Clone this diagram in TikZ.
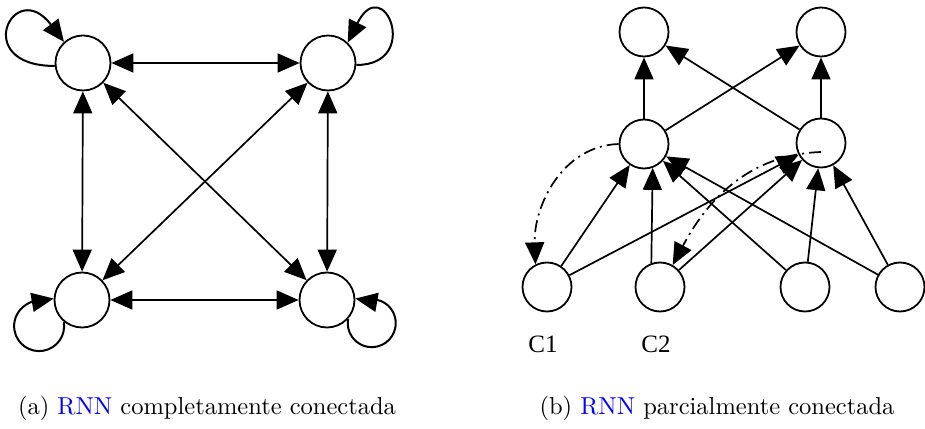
\documentclass[tikz,border=0pt]{standalone}
\usepackage{fontspec}
\usepackage{graphicx}
\usetikzlibrary{arrows.meta}
\newfontfamily\tnr{Liberation Serif}
\begin{document}
\begin{tikzpicture}[x=1pt,y=1pt,
  neuron/.style={circle,draw,line width=1.8pt,minimum size=55pt,inner sep=0pt},
  rneuron/.style={circle,draw,line width=1.8pt,minimum size=49pt,inner sep=0pt},
  tip/.style={-{Triangle[length=22pt,width=19pt]}},
  conn/.style={line width=1.7pt,tip},
  bconn/.style={line width=1.7pt,{Triangle[length=22pt,width=19pt]}-{Triangle[length=22pt,width=19pt]}},
  loopc/.style={line width=2pt,tip},
  dd/.style={line width=1.7pt,dash pattern=on 12pt off 5pt on 2pt off 5pt,tip},
  lbl/.style={font=\tnr\fontsize{25}{28}\selectfont,inner sep=0pt},
  captxt/.style={inner sep=0pt,anchor=base}
]
\useasboundingbox (0,0) rectangle (925,428);
% ---- (a) fully connected
\node[neuron] (TL) at (83,365) {};
\node[neuron] (TR) at (328,365) {};
\node[neuron] (BL) at (82,128) {};
\node[neuron] (BR) at (327,128) {};
\draw[bconn] (TL) -- (TR);
\draw[bconn] (BL) -- (BR);
\draw[bconn] (TL) -- (BL);
\draw[bconn] (TR) -- (BR);
\draw[bconn] (TL) -- (BR);
\draw[bconn] (TR) -- (BL);
\draw[loopc] (TL.186) .. controls +(-85,0) and +(-50,66) .. (TL.132);
\draw[loopc] (TR.-4) .. controls +(66,0) and +(36,72) .. (TR.46);
\draw[loopc] (BL.230) arc[start angle=10,end angle=-230,radius=25] to[out=40,in=190] (BL.177);
\draw[loopc] (BR.-42) arc[start angle=170,end angle=410,radius=24] to[out=140,in=-10] (BR.3);
% ---- (b) partially connected
\node[rneuron] (TLt) at (644,396) {};
\node[rneuron] (TRt) at (821,396) {};
\node[rneuron] (ML) at (644,284) {};
\node[rneuron] (MR) at (821,285) {};
\node[rneuron] (C1) at (547,141) {};
\node[rneuron] (C2) at (660,141) {};
\node[rneuron] (N3) at (805,141) {};
\node[rneuron] (N4) at (900,141) {};
\node[lbl] (l1) at (543,84) {C1};
\node[lbl] (l2) at (656,84) {C2};
\draw[conn] (ML) -- (TLt);
\draw[conn] (MR) -- (TRt);
\draw[conn] (ML) -- (TRt);
\draw[conn] (MR) -- (TLt);
\draw[conn] (C1) -- (ML);
\draw[conn] (C1) -- (MR);
\draw[conn] (C2.110) -- (ML.-70);
\draw[conn] (C2) -- (MR);
\draw[conn] (N3) -- (ML);
\draw[conn] (N3) -- (MR);
\draw[conn] (N4) -- (ML);
\draw[conn] (N4) -- (MR);
\coordinate (mrin) at ([yshift=-9pt]MR.center);
\draw[dd] (ML.180) to[out=182,in=92] (C1.117);
\draw[dd] (mrin) to[out=182,in=62] (C2.60);
% ---- captions
\node[captxt] (ca) at (207,14) {\scalebox{2.45}{\fontsize{10}{12}\selectfont (a) \textcolor{blue}{RNN} completamente conectada}};
\node[captxt] (cb) at (717,14) {\scalebox{2.45}{\fontsize{10}{12}\selectfont (b) \textcolor{blue}{RNN} parcialmente conectada}};
\end{tikzpicture}
\end{document}
